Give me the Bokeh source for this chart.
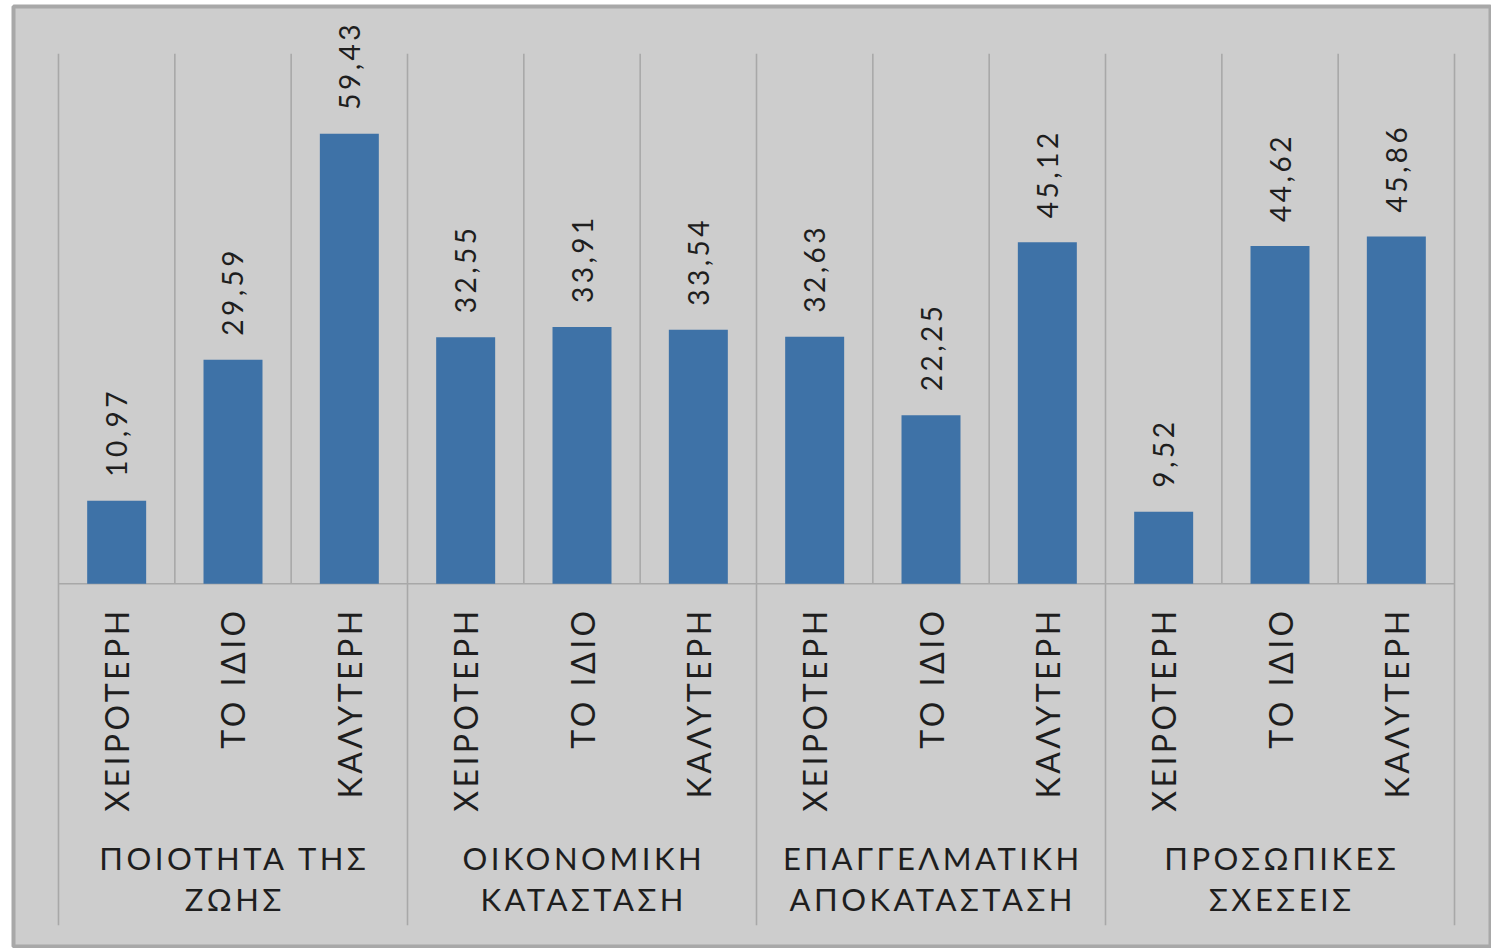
import numpy as np
from bokeh.plotting import figure
from bokeh.models import Range1d
from bokeh.core.properties import value
from bokeh.embed import file_html
from bokeh.resources import INLINE

# ---- data ----
groups = ["ΠΟΙΟΤΗΤΑ ΤΗΣ\nΖΩΗΣ", "ΟΙΚΟΝΟΜΙΚΗ\nΚΑΤΑΣΤΑΣΗ",
          "ΕΠΑΓΓΕΛΜΑΤΙΚΗ\nΑΠΟΚΑΤΑΣΤΑΣΗ", "ΠΡΟΣΩΠΙΚΕΣ\nΣΧΕΣΕΙΣ"]
answers = ["ΧΕΙΡΟΤΕΡΗ", "ΤΟ ΙΔΙΟ", "ΚΑΛΥΤΕΡΗ"]
values = [10.97, 29.59, 59.43,
          32.55, 33.91, 33.54,
          32.63, 22.25, 45.12,
          9.52, 44.62, 45.86]
value_labels = [f"{v:.2f}".replace(".", ",") for v in values]
axis_max = 70

# ---- style ----
BG = "#cdcdcd"
BAR = "#3e72a7"
GRID = "#a8a8a8"
TXT = "#1e1e1e"
FONT = "Lato"
LS = 3.5  # letter spacing in px (Excel "expanded" character spacing)

n_groups = len(groups)
n_ans = len(answers)
n = n_groups * n_ans
x_centers = np.arange(n) + 0.5
cat_labels = answers * n_groups
group_centers = np.arange(n_groups) * n_ans + n_ans / 2
group_line1 = [g.split("\n")[0] for g in groups]
group_line2 = [g.split("\n")[1] for g in groups]

p = figure(width=1491, height=948, output_backend="svg", toolbar_location=None,
           x_range=Range1d(-0.3868, 12.318), y_range=Range1d(-47.90, 76.24),
           min_border_left=13, min_border_right=0, min_border_top=6, min_border_bottom=2)
p.axis.visible = False
p.grid.visible = False
p.background_fill_color = BG
p.border_fill_color = "white"
p.outline_line_color = GRID
p.outline_line_width = 4
p.styles = {"letter-spacing": f"{LS}px"}

# separators
inner = [k for k in range(1, n) if k % n_ans != 0]
outer = [k for k in range(0, n + 1) if k % n_ans == 0]
p.segment(x0=inner, x1=inner, y0=[0] * len(inner), y1=[axis_max] * len(inner),
          line_color=GRID, line_width=1.6)
p.segment(x0=outer, x1=outer, y0=[-45.1] * len(outer), y1=[axis_max] * len(outer),
          line_color=GRID, line_width=1.6)
# baseline
p.segment(x0=[0], x1=[n], y0=[0], y1=[0], line_color=GRID, line_width=1.6)

# bars
p.vbar(x=x_centers, top=values, bottom=0, width=0.507, fill_color=BAR, line_color=None)

# value labels
p.text(x=x_centers, y=values, text=value_labels, angle=np.pi / 2,
       text_align="left", text_baseline="middle", y_offset=-24,
       text_font=value(FONT), text_font_size="28px", text_color=TXT)

# category labels (right aligned; compensate for letter spacing)
cat_off = [27 + (len(t) - 1) * LS for t in cat_labels]
p.text(x=x_centers, y=[0] * n, text=cat_labels, angle=np.pi / 2,
       text_align="right", text_baseline="middle", y_offset=cat_off,
       text_font=value(FONT), text_font_size="32px", text_color=TXT)

# group labels (two lines, centered; compensate for letter spacing)
for lines, yo in ((group_line1, 274), (group_line2, 315)):
    p.text(x=group_centers, y=[0] * n_groups, text=lines,
           text_align="center", text_baseline="middle", y_offset=yo,
           x_offset=[-(len(t) - 1) * LS / 2 for t in lines],
           text_font=value(FONT), text_font_size="31px", text_color=TXT)

open("out.html", "w").write(file_html(p, INLINE))
